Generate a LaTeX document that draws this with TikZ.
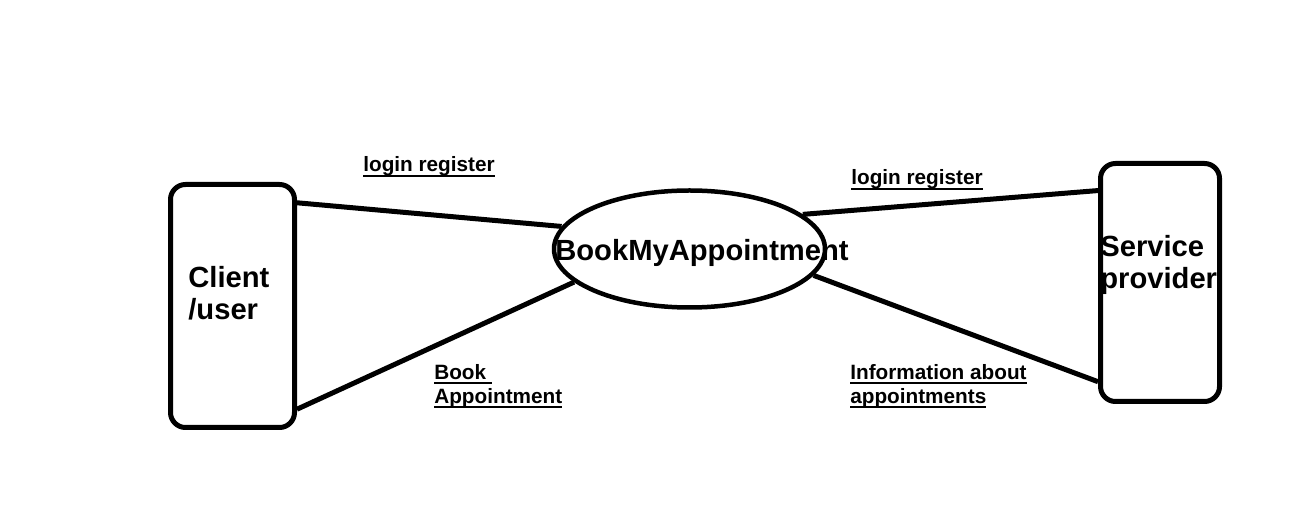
\documentclass[tikz,border=0pt]{standalone}
\usepackage{fontspec}
\setmainfont{Liberation Sans}
\usepackage{tikz}
\usetikzlibrary{shapes.geometric, positioning}

\newsavebox{\ulsave}
\newcommand{\ulbox}[1]{\sbox{\ulsave}{#1}\usebox{\ulsave}\llap{\rule[-2.6pt]{\wd\ulsave}{1.1pt}}}

\begin{document}
\begin{tikzpicture}[
    entity/.style={draw, line width=0.1cm, rounded corners=0.3cm, inner sep=0pt},
    process/.style={draw, ellipse, line width=0.09cm, inner sep=0pt, minimum width=5.42cm, minimum height=2.34cm},
    bigtext/.style={inner sep=0pt, align=left, font=\bfseries\fontsize{16.6pt}{18.2pt}\selectfont},
    flowtext/.style={inner sep=0pt, align=left, font=\bfseries\fontsize{11.8pt}{13.7pt}\selectfont},
    link/.style={line width=0.1cm}
  ]
        \useasboundingbox (0,0) rectangle (25.98,10.48);

        % Entities
        \node[entity, minimum width=2.48cm, minimum height=4.86cm] (client) at (4.65,4.36) {};
        \node[entity, minimum width=2.38cm, minimum height=4.76cm] (provider) at (23.2,4.83) {};
        \node[bigtext, anchor=north west] (clienttxt) at (3.76,5.16) {Client\\/user};
        \node[bigtext, anchor=north west] (providertxt) at (22.0,5.78) {Service\\provider};

        % System
        \node[process] (sys) at (13.79,5.5) {};
        \node[bigtext, anchor=base west] (systxt) at (11.1,5.26) {BookMyAppointment};

        % Flows
        \draw[link] (client.58.7) -- (sys.170);
        \draw[link] (client.-58.7) -- (sys.196);
        \draw[link] (sys.17) -- (provider.124.1);
        \draw[link] (sys.-12) -- (provider.238.1);

        % Flow labels
        \node[flowtext, anchor=base west] (loginclient) at (7.26,7.04) {\ulbox{login register}};
        \node[flowtext, anchor=base west] (loginprovider) at (17.02,6.78) {\ulbox{login register}};
        \node[flowtext, anchor=north west] (booking) at (8.68,3.2) {\ulbox{Book~}\\\ulbox{Appointment}};
        \node[flowtext, anchor=north west] (info) at (17.0,3.2) {\ulbox{Information about}\\\ulbox{appointments}};
      \end{tikzpicture}
\end{document}
